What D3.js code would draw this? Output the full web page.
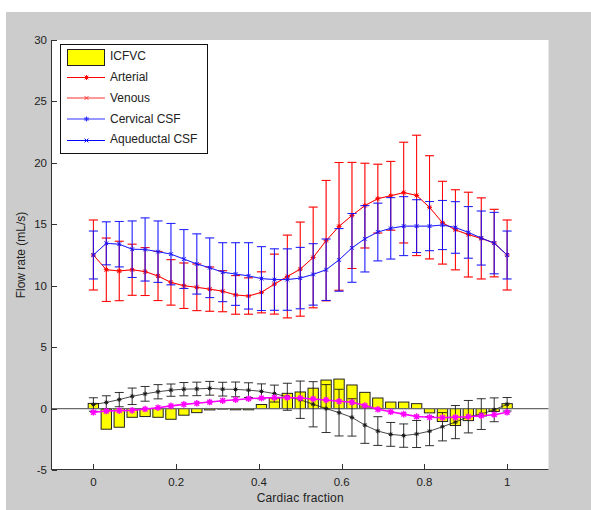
<!DOCTYPE html>
<html>
<head>
<meta charset="utf-8">
<script src="https://cdn.jsdelivr.net/npm/d3@7"></script>
<style>
  html, body { margin: 0; padding: 0; background: #ffffff; }
  svg { display: block; }
  text { font-family: "Liberation Sans", Arial, Helvetica, sans-serif; fill: #222; }
</style>
</head>
<body>
<svg id="chart" width="591" height="510"></svg>
<script>
// ---------- data ----------
const phase = [0, 0.03125, 0.0625, 0.09375, 0.125, 0.15625, 0.1875, 0.21875, 0.25,
  0.28125, 0.3125, 0.34375, 0.375, 0.40625, 0.4375, 0.46875, 0.5, 0.53125, 0.5625,
  0.59375, 0.625, 0.65625, 0.6875, 0.71875, 0.75, 0.78125, 0.8125, 0.84375, 0.875,
  0.90625, 0.9375, 0.96875, 1];

const icfvc = [0.42, -1.68, -1.52, -0.71, -0.65, -0.71, -0.87, -0.54, -0.33, -0.11, -0.04,
  -0.1, -0.1, 0.33, 0.85, 1.24, 1.35, 1.66, 2.32, 2.4, 1.92, 1.32, 0.86, 0.53, 0.53, 0.4,
  -0.35, -1.05, -1.38, -0.98, -0.6, -0.23, 0.4];

const arterialMean = [12.5, 11.3, 11.2, 11.3, 11.15, 10.79, 10.27, 10.0, 9.87, 9.72, 9.55,
  9.25, 9.16, 9.46, 10.13, 10.75, 11.35, 12.3, 13.67, 14.83, 15.72, 16.52, 17.09, 17.32,
  17.58, 17.35, 16.38, 15.13, 14.55, 14.16, 13.85, 13.47, 12.5];
const arterialErr = [2.85, 2.58, 2.42, 2.08, 1.95, 2.0, 1.85, 1.85, 1.9, 1.8, 1.67, 1.57,
  1.48, 1.67, 2.44, 3.37, 3.83, 4.1, 4.9, 5.2, 4.32, 3.45, 2.8, 2.8, 4.1, 4.9, 4.2, 3.37,
  3.26, 3.45, 3.3, 2.75, 2.85];

const venousMean = [12.5, 11.3, 11.2, 11.3, 11.15, 10.79, 10.27, 10.0, 9.87, 9.72, 9.55,
  9.25, 9.16, 9.46, 10.13, 10.75, 11.35, 12.3, 13.67, 14.83, 15.72, 16.52, 17.09, 17.32,
  17.58, 17.35, 16.38, 15.13, 14.55, 14.16, 13.85, 13.47, 12.5];
const venousErr = [2.85, 2.58, 2.42, 2.08, 1.95, 2.0, 1.85, 1.85, 1.9, 1.8, 1.67, 1.57,
  1.48, 1.67, 2.44, 3.37, 3.83, 4.1, 4.9, 5.2, 4.32, 3.45, 2.8, 2.8, 4.1, 4.9, 4.2, 3.37,
  3.26, 3.45, 3.3, 2.75, 2.85];

const cervicalMean = [12.5, 13.45, 13.38, 12.97, 12.95, 12.77, 12.57, 12.17, 11.77, 11.46,
  11.1, 10.95, 10.8, 10.58, 10.5, 10.5, 10.62, 10.92, 11.3, 12.1, 13.08, 13.82, 14.37,
  14.67, 14.85, 14.85, 14.85, 14.94, 14.74, 14.34, 13.88, 13.47, 12.5];
const cervicalErr = [1.95, 1.75, 1.85, 2.3, 2.57, 2.5, 2.5, 2.4, 2.45, 2.43, 2.4, 2.55, 2.7,
  2.6, 2.5, 2.5, 2.5, 2.5, 2.5, 2.55, 2.8, 2.7, 2.35, 2.5, 2.4, 2.15, 2.0, 2.0, 2.1, 2.1,
  2.2, 2.5, 1.95];

const aqueductalMean = [12.5, 13.45, 13.38, 12.97, 12.95, 12.77, 12.57, 12.17, 11.77, 11.46,
  11.1, 10.95, 10.8, 10.58, 10.5, 10.5, 10.62, 10.92, 11.3, 12.1, 13.08, 13.82, 14.37,
  14.67, 14.85, 14.85, 14.85, 14.94, 14.74, 14.34, 13.88, 13.47, 12.5];
const aqueductalErr = [1.95, 1.75, 1.85, 2.3, 2.57, 2.5, 2.5, 2.4, 2.45, 2.43, 2.4, 2.55, 2.7,
  2.6, 2.5, 2.5, 2.5, 2.5, 2.5, 2.55, 2.8, 2.7, 2.35, 2.5, 2.4, 2.15, 2.0, 2.0, 2.1, 2.1,
  2.2, 2.5, 1.95];

const blackMean = [0.33, 0.5, 0.73, 1.0, 1.2, 1.37, 1.5, 1.58, 1.6, 1.65, 1.58, 1.56, 1.5,
  1.4, 1.22, 0.96, 0.72, 0.35, 0.0, -0.33, -0.72, -1.35, -1.83, -2.1, -2.2, -2.07, -1.84,
  -1.48, -1.1, -0.66, -0.45, -0.1, 0.35];
const blackErr = [0.55, 0.54, 0.58, 0.67, 0.6, 0.58, 0.5, 0.54, 0.55, 0.56, 0.56, 0.6, 0.6,
  0.61, 0.69, 1.1, 1.52, 1.84, 1.95, 1.9, 1.52, 1.48, 1.17, 0.97, 0.95, 1.1, 1.18, 1.15,
  1.35, 1.32, 1.25, 0.97, 0.55];

const magentaMean = [-0.3, -0.2, -0.17, -0.15, -0.04, 0.07, 0.22, 0.34, 0.43, 0.53, 0.64,
  0.72, 0.8, 0.86, 0.89, 0.9, 0.86, 0.78, 0.7, 0.59, 0.51, 0.25, -0.06, -0.26, -0.45,
  -0.65, -0.71, -0.74, -0.71, -0.66, -0.58, -0.5, -0.3];

const xTicks = [0, 0.2, 0.4, 0.6, 0.8, 1];
const yTicks = [-5, 0, 5, 10, 15, 20, 25, 30];
const legendLabels = ["ICFVC", "Arterial", "Venous", "Cervical CSF", "Aqueductal CSF"];

// ---------- layout ----------
const svg = d3.select("#chart");
const L = 52, R = 548.5, T = 40, B = 470;

svg.append("rect").attr("x", 6).attr("y", 12).attr("width", 585).attr("height", 498)
  .attr("fill", "#cccccc");
svg.append("rect").attr("x", L).attr("y", T).attr("width", R - L).attr("height", B - T)
  .attr("fill", "#ffffff");
svg.append("line").attr("x1", R).attr("x2", R).attr("y1", T).attr("y2", B)
  .attr("stroke", "#e6e6e6").attr("stroke-width", 1);

const x = d3.scaleLinear().domain([-0.1, 1.1]).range([L, R]);
const y = d3.scaleLinear().domain([-5, 30]).range([B, T]);

const g = svg.append("g");

// ---------- bars (ICFVC) ----------
const step = x(phase[1]) - x(phase[0]);
const bw = step * 0.8;
g.append("g").selectAll("rect").data(phase).join("rect")
  .attr("x", (d) => x(d) - bw / 2)
  .attr("width", bw)
  .attr("y", (d, i) => y(Math.max(0, icfvc[i])))
  .attr("height", (d, i) => Math.abs(y(icfvc[i]) - y(0)))
  .attr("fill", "#ffff00")
  .attr("stroke", "#222")
  .attr("stroke-width", 1);

// zero baseline
g.append("line").attr("x1", L).attr("x2", R).attr("y1", y(0)).attr("y2", y(0))
  .attr("stroke", "#6a6a6a").attr("stroke-width", 1.3);

// ---------- helpers ----------
const cap = 4.5;
function starPath(r) {
  const k = r * 0.72;
  return `M${-r},0L${r},0M0,${-r}L0,${r}M${-k},${-k}L${k},${k}M${-k},${k}L${k},${-k}`;
}
function crossPath(r) {
  const k = r * 0.75;
  return `M${-k},${-k}L${k},${k}M${-k},${k}L${k},${-k}`;
}
function series(mean, err, color, opts) {
  const grp = g.append("g").attr("opacity", opts.op == null ? 1 : opts.op);
  const line = d3.line().x((d) => x(d)).y((d, i) => y(mean[i]));
  if (err) {
    const eb = grp.append("g").attr("stroke", color).attr("stroke-width", opts.ebw || 1)
      .attr("fill", "none");
    eb.selectAll("path").data(phase).join("path")
      .attr("d", (d, i) => {
        const cx = x(d), y1 = y(mean[i] + err[i]), y2 = y(mean[i] - err[i]);
        return `M${cx},${y1}L${cx},${y2}M${cx - cap},${y1}L${cx + cap},${y1}M${cx - cap},${y2}L${cx + cap},${y2}`;
      });
  }
  grp.append("path").datum(phase).attr("d", line).attr("fill", "none")
    .attr("stroke", color).attr("stroke-width", opts.lw || 1);
  grp.append("g").selectAll("path").data(phase).join("path")
    .attr("transform", (d, i) => `translate(${x(d)},${y(mean[i])})`)
    .attr("d", opts.marker === "x" ? crossPath(opts.ms || 3) : starPath(opts.ms || 3))
    .attr("fill", "none").attr("stroke", color).attr("stroke-width", opts.mw || 1);
}

// lower curves
series(blackMean, blackErr, "#1a1a1a", { lw: 0.8, ms: 2.3, ebw: 0.9 });
series(magentaMean, null, "#ff00ff", { lw: 1.6, ms: 3.3, mw: 1.4 });

// upper curves
series(venousMean, venousErr, "#ff6060", { marker: "x", ms: 2.5, op: 0.45 });
series(arterialMean, arterialErr, "#ff0000", { ms: 2.5 });
series(cervicalMean, cervicalErr, "#6f6fff", { ms: 2.5, op: 0.4 });
series(aqueductalMean, aqueductalErr, "#0000ff", { marker: "x", ms: 2.5, op: 0.85 });

// ---------- axes ----------
const ax = svg.append("g");
ax.append("line").attr("x1", L - 0.5).attr("x2", L - 0.5).attr("y1", T).attr("y2", B)
  .attr("stroke", "#333").attr("stroke-width", 1);
ax.append("line").attr("x1", L - 1).attr("x2", R).attr("y1", B - 0.5).attr("y2", B - 0.5)
  .attr("stroke", "#333").attr("stroke-width", 1);

ax.selectAll(".yt").data(yTicks).join("line").attr("class", "yt")
  .attr("x1", L).attr("x2", L + 5)
  .attr("y1", (d) => Math.round(y(d)) + 0.5).attr("y2", (d) => Math.round(y(d)) + 0.5)
  .attr("stroke", "#333");
ax.selectAll(".ytl").data(yTicks).join("text").attr("class", "ytl")
  .attr("x", L - 5).attr("y", (d) => y(d) + 4)
  .attr("text-anchor", "end").attr("font-size", "11.5px")
  .text((d) => d);

ax.selectAll(".xt").data(xTicks).join("line").attr("class", "xt")
  .attr("x1", (d) => Math.round(x(d)) + 0.5).attr("x2", (d) => Math.round(x(d)) + 0.5)
  .attr("y1", B - 1).attr("y2", B - 6)
  .attr("stroke", "#333");
ax.selectAll(".xtl").data(xTicks).join("text").attr("class", "xtl")
  .attr("x", (d) => x(d)).attr("y", 486)
  .attr("text-anchor", "middle").attr("font-size", "11.5px")
  .text((d) => d);

svg.append("text").attr("x", (L + R) / 2).attr("y", 502)
  .attr("text-anchor", "middle").attr("font-size", "12px").attr("letter-spacing", "0.2px")
  .text("Cardiac fraction");
svg.append("text").attr("transform", `translate(25,${(T + B) / 2}) rotate(-90)`)
  .attr("text-anchor", "middle").attr("font-size", "12px")
  .text("Flow rate (mL/s)");

// ---------- legend ----------
const lg = svg.append("g");
lg.append("rect").attr("x", 60.5).attr("y", 44.5).attr("width", 147).attr("height", 109)
  .attr("fill", "#ffffff").attr("stroke", "#111").attr("stroke-width", 1);
lg.append("rect").attr("x", 67.5).attr("y", 49.5).attr("width", 37).attr("height", 16)
  .attr("fill", "#ffff00").attr("stroke", "#222");
const legendRows = [
  { y: 77.5, color: "#ff0000", marker: "star", w: 1 },
  { y: 98, color: "#ff3333", marker: "x", w: 1 },
  { y: 119, color: "#3030ff", marker: "star", w: 1.2 },
  { y: 140.5, color: "#0000ff", marker: "x", w: 1 }
];
legendRows.forEach((r) => {
  lg.append("line").attr("x1", 67).attr("x2", 105).attr("y1", r.y).attr("y2", r.y)
    .attr("stroke", r.color).attr("stroke-width", r.w);
  lg.append("path").attr("transform", `translate(86.5,${r.y})`)
    .attr("d", r.marker === "x" ? crossPath(2.5) : starPath(2.5))
    .attr("fill", "none").attr("stroke", r.color);
});
const textYs = [59.5, 80.5, 101.5, 122.5, 143];
lg.selectAll(".lt").data(legendLabels).join("text").attr("class", "lt")
  .attr("x", 110).attr("y", (d, i) => textYs[i])
  .attr("font-size", "12px")
  .text((d) => d);
</script>
</body>
</html>
